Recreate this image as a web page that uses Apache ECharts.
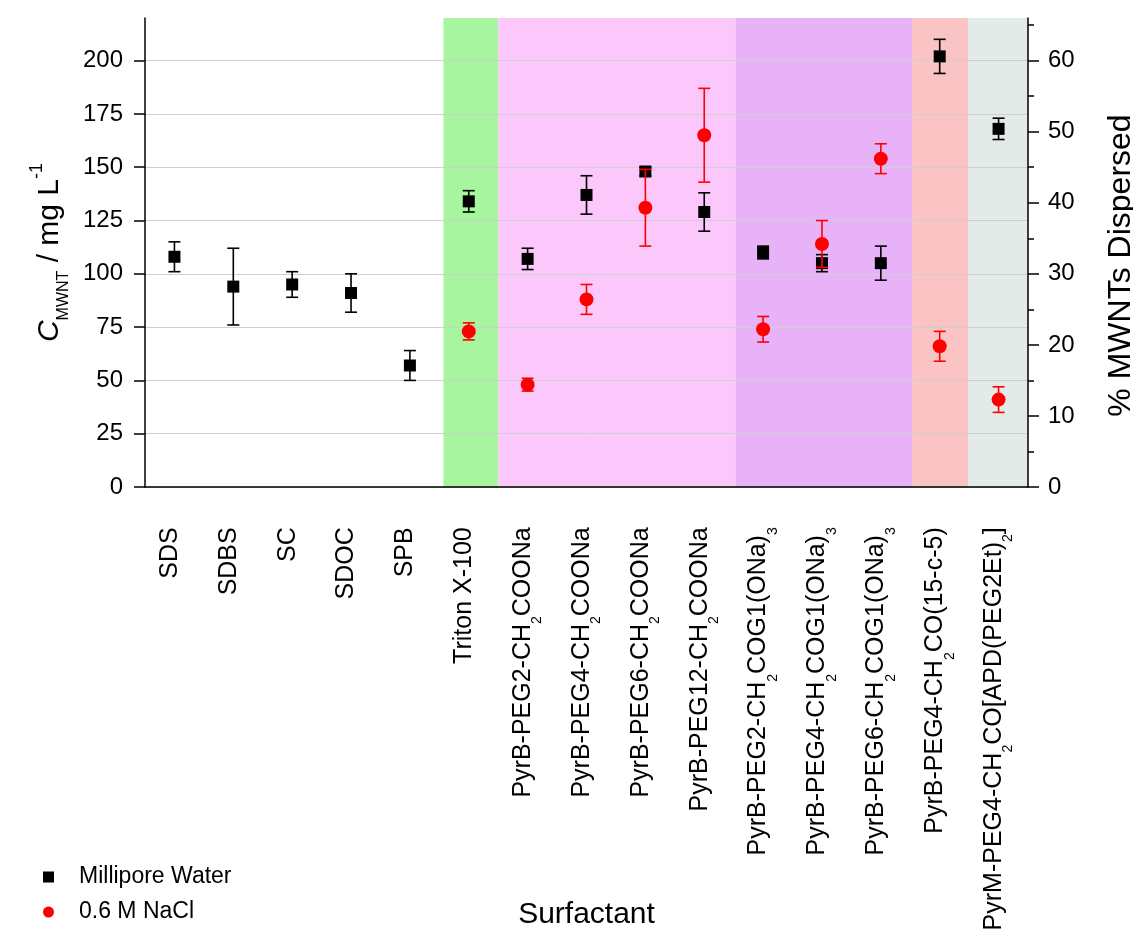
<!DOCTYPE html>
<html><head><meta charset="utf-8">
<script src="https://cdn.jsdelivr.net/npm/echarts@6/dist/echarts.min.js"></script>
<style>html,body{margin:0;padding:0;background:#fff}#c{width:1133px;height:937px}</style>
</head><body><div id="c"></div>
<script>
// ---- data ----
const categories = ['SDS','SDBS','SC','SDOC','SPB','Triton X-100',
  'PyrB-PEG2-CH_2COONa','PyrB-PEG4-CH_2COONa','PyrB-PEG6-CH_2COONa','PyrB-PEG12-CH_2COONa',
  'PyrB-PEG2-CH_2COG1(ONa)_3','PyrB-PEG4-CH_2COG1(ONa)_3','PyrB-PEG6-CH_2COG1(ONa)_3',
  'PyrB-PEG4-CH_2CO(15-c-5)','PyrM-PEG4-CH_2CO[APD(PEG2Et)_2]'];
const waterValues = [108, 94, 95, 91, 57, 134, 107, 137, 148, 129, 110, 105, 105, 202, 168];
const waterErrors = [7, 18, 6, 9, 7, 5, 5, 9, 2, 9, 3, 4, 8, 8, 5];
const naclValues  = [null, null, null, null, null, 73, 48, 88, 131, 165, 74, 114, 154, 66, 41];
const naclErrors  = [null, null, null, null, null, 4, 3, 7, 18, 22, 6, 11, 7, 7, 6];
const leftTicks  = [0, 25, 50, 75, 100, 125, 150, 175, 200];
const rightTicks = [0, 10, 20, 30, 40, 50, 60];
const leftMax = 220, rightMax = 66;
// background bands (in category-index units)
const bandStarts = [4.57, 5.5, 9.53, 12.53, 13.49];
const bandEnds   = [5.5, 9.53, 12.53, 13.49, 14.5];
const bandColors = ['#a8f5a0', '#fcc8fc', '#e8b2f8', '#fbc4c4', '#e3ebe8'];

const FONT = '"Liberation Sans", Arial, sans-serif';

function fmtLabel(s) {
  return s.split(/_(\d)/).map((p, i) => i % 2 ? '{s|' + p + '}' : (p ? '{n|' + p + '}' : '')).join('') + '{z| }';
}

function errRender(color) {
  return function (params, api) {
    const x = api.value(0), lo = api.value(1), hi = api.value(2);
    const a = api.coord([x, lo]), b = api.coord([x, hi]);
    const w = 6;
    const st = { stroke: color, lineWidth: 1.6 };
    return { type: 'group', children: [
      { type: 'line', shape: { x1: a[0], y1: a[1], x2: b[0], y2: b[1] }, style: st },
      { type: 'line', shape: { x1: a[0] - w, y1: a[1], x2: a[0] + w, y2: a[1] }, style: st },
      { type: 'line', shape: { x1: b[0] - w, y1: b[1], x2: b[0] + w, y2: b[1] }, style: st }
    ]};
  };
}

const waterErrData = waterValues.map((v, i) => [i, v - waterErrors[i], v + waterErrors[i]]);
const naclErrData = [];
naclValues.forEach((v, i) => { if (v != null) naclErrData.push([i, v - naclErrors[i], v + naclErrors[i]]); });

const chart = echarts.init(document.getElementById('c'), null, { renderer: 'canvas' });
chart.setOption({
  animation: false,
  backgroundColor: '#ffffff',
  textStyle: { fontFamily: FONT, color: '#000' },
  grid: { left: 145, right: 105, top: 18, bottom: 450, containLabel: false, outerBoundsMode: 'none' },
  legend: {
    data: ['Millipore Water', '0.6 M NaCl'],
    orient: 'vertical', left: 38, top: 860,
    itemWidth: 11, itemHeight: 11, itemGap: 11,
    textStyle: { fontFamily: FONT, fontSize: 23, color: '#000', lineHeight: 24, padding: [0, 0, 0, 20] }
  },
  xAxis: [{
    type: 'category', data: categories, gridIndex: 0, position: 'bottom', z: 2,
    boundaryGap: true,
    name: 'Surfactant', nameLocation: 'middle', nameGap: 413, nameMoveOverlap: false,
    nameTextStyle: { fontFamily: FONT, fontSize: 30, color: '#000' },
    axisLine: { lineStyle: { color: '#000', width: 1.5 } },
    axisTick: { alignWithLabel: true, length: 11, lineStyle: { color: '#000', width: 1.5 } },
    axisLabel: {
      rotate: 90, interval: 0, margin: 40, color: '#000',
      formatter: fmtLabel,
      rich: {
        n: { fontFamily: FONT, fontSize: 25, lineHeight: 30, verticalAlign: 'top', color: '#000' },
        s: { fontFamily: FONT, fontSize: 14, lineHeight: 14, padding: [18, 0, 0, 0], verticalAlign: 'bottom', color: '#000' },
        z: { fontSize: 1, lineHeight: 34 }
      }
    },
    splitLine: { show: false }
  }, {
    type: 'value', gridIndex: 0, min: -0.5, max: 14.5, show: false
  }],
  yAxis: [{
    type: 'value', min: 0, max: leftMax, position: 'left', z: 2,
    name: '{i|C}{sub|MWNT}{n| / mg L}{sup|-1}',
    nameLocation: 'middle', nameRotate: 90, nameGap: 66,
    nameTextStyle: {
      rich: {
        i: { fontFamily: FONT, fontSize: 30, fontStyle: 'italic', lineHeight: 44, color: '#000' },
        n: { fontFamily: FONT, fontSize: 30, lineHeight: 44, color: '#000' },
        sub: { fontFamily: FONT, fontSize: 16, lineHeight: 16, verticalAlign: 'bottom', color: '#000' },
        sup: { fontFamily: FONT, fontSize: 18, lineHeight: 18, verticalAlign: 'top', color: '#000' }
      }
    },
    axisLine: { show: true, onZero: false, lineStyle: { color: '#000', width: 1.5 } },
    axisTick: { show: true, length: 11, customValues: leftTicks, lineStyle: { color: '#000', width: 1.5 } },
    minorTick: { show: true, splitNumber: 2, length: 6, lineStyle: { color: '#000', width: 1.5 } },
    axisLabel: { customValues: leftTicks, margin: 22, fontFamily: FONT, fontSize: 24, color: '#000' },
    splitLine: { show: true, lineStyle: { color: '#cfcfcf', width: 1 } }
  }, {
    type: 'value', min: 0, max: rightMax, position: 'right', z: 2,
    name: '% MWNTs Dispersed', nameLocation: 'middle', nameRotate: 90, nameGap: 77,
    nameTextStyle: { fontFamily: FONT, fontSize: 32, color: '#000', padding: [0, 26, 0, 0] },
    axisLine: { show: true, onZero: false, lineStyle: { color: '#000', width: 1.5 } },
    axisTick: { show: true, length: 11, customValues: rightTicks, lineStyle: { color: '#000', width: 1.5 } },
    minorTick: { show: true, splitNumber: 2, length: 6, lineStyle: { color: '#000', width: 1.5 } },
    axisLabel: { customValues: rightTicks, margin: 20, fontFamily: FONT, fontSize: 24, color: '#000' },
    splitLine: { show: false }
  }],
  series: [{
    type: 'custom', name: 'bands', xAxisIndex: 1, yAxisIndex: 0, z: 1, silent: true,
    data: bandStarts.map((s, i) => [s, bandEnds[i], i]),
    encode: { x: [0, 1] },
    renderItem: function (params, api) {
      const p0 = api.coord([api.value(0), leftMax]);
      const p1 = api.coord([api.value(1), 0]);
      return { type: 'rect', shape: { x: p0[0], y: p0[1], width: p1[0] - p0[0], height: p1[1] - p0[1] },
               style: { fill: bandColors[api.value(2)] } };
    }
  }, {
    type: 'custom', name: 'waterErr', xAxisIndex: 0, yAxisIndex: 0, z: 3, silent: true,
    data: waterErrData, encode: { x: 0, y: [1, 2] }, renderItem: errRender('#000000')
  }, {
    type: 'scatter', name: 'Millipore Water', xAxisIndex: 0, yAxisIndex: 0, z: 4,
    symbol: 'rect', symbolSize: 12, itemStyle: { color: '#000000', opacity: 1 },
    data: waterValues
  }, {
    type: 'custom', name: 'naclErr', xAxisIndex: 0, yAxisIndex: 0, z: 5, silent: true,
    data: naclErrData, encode: { x: 0, y: [1, 2] }, renderItem: errRender('#ff0000')
  }, {
    type: 'scatter', name: '0.6 M NaCl', xAxisIndex: 0, yAxisIndex: 0, z: 6,
    symbol: 'circle', symbolSize: 14, itemStyle: { color: '#ff0000', opacity: 1 },
    data: naclValues.map(v => v == null ? '-' : v)
  }]
});
</script>
</body></html>
